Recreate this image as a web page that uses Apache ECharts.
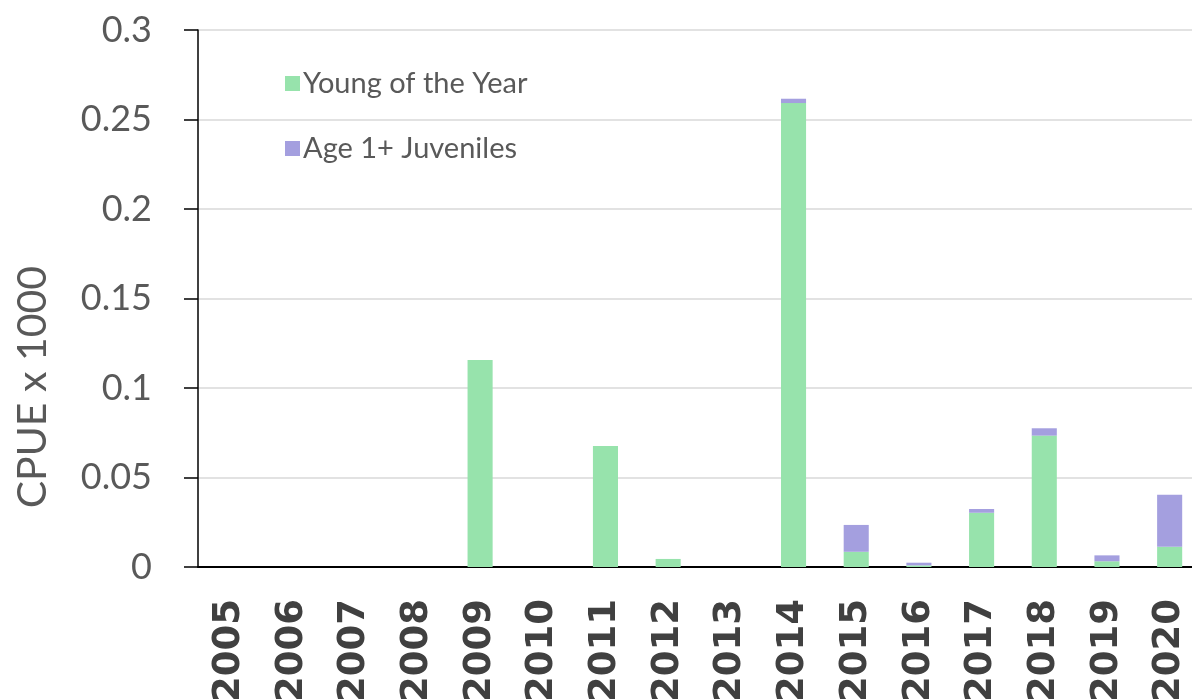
<!DOCTYPE html>
<html>
<head>
<meta charset="utf-8">
<script src="https://cdn.jsdelivr.net/npm/echarts@6/dist/echarts.min.js"></script>
<style>html,body{margin:0;padding:0;background:#fff;}#c{width:1192px;height:699px;}</style>
</head>
<body>
<div id="c"></div>
<script>
const years = ['2005','2006','2007','2008','2009','2010','2011','2012','2013','2014','2015','2016','2017','2018','2019','2020'];
const youngOfYear = [0, 0, 0, 0, 0.1156, 0, 0.0676, 0.0045, 0, 0.2592, 0.0085, 0.0009, 0.0303, 0.0734, 0.0032, 0.0113];
const age1Juveniles = [0, 0, 0, 0, 0, 0, 0, 0, 0, 0.0024, 0.0150, 0.0015, 0.0021, 0.0041, 0.0033, 0.0291];
const yTicks = [0, 0.05, 0.1, 0.15, 0.2, 0.25, 0.3];

const chart = echarts.init(document.getElementById('c'));
chart.setOption({
  animation: false,
  backgroundColor: '#ffffff',
  grid: { left: 198, top: 30, width: 1003, height: 537, containLabel: false, outerBoundsMode: 'none' },
  legend: {
    orient: 'vertical',
    left: 280,
    top: 64,
    itemGap: 36,
    itemWidth: 15,
    itemHeight: 15,
    icon: 'rect',
    textStyle: { fontFamily: 'Lato', fontSize: 29, color: '#595959', padding: [0, 0, 0, -2] },
    data: ['Young of the Year', 'Age 1+ Juveniles']
  },
  xAxis: {
    type: 'category',
    data: years,
    axisLine: { lineStyle: { color: '#000000', width: 2 } },
    axisTick: { show: false },
    axisLabel: {
      rotate: 90, margin: 32, interval: 0,
      fontFamily: 'DejaVu Sans', fontWeight: 'bold', fontSize: 37, color: '#404040'
    }
  },
  yAxis: {
    type: 'value',
    min: yTicks[0],
    max: yTicks[yTicks.length - 1],
    interval: 0.05,
    axisLine: { show: true, lineStyle: { color: '#000000', width: 1.5 } },
    axisTick: { show: true, inside: false, length: 14, lineStyle: { color: '#000000', width: 1.5 } },
    axisLabel: {
      margin: 46, fontFamily: 'Lato', fontSize: 36, color: '#595959',
      formatter: v => String(parseFloat(v.toFixed(2)))
    },
    splitLine: { lineStyle: { color: '#d9d9d9', width: 1.5 } }
  },
  graphic: [{
    type: 'text',
    left: 12,
    top: 266,
    rotation: Math.PI / 2,
    style: { text: 'CPUE x 1000', fontFamily: 'Lato', fontSize: 41, fill: '#595959' }
  }],
  series: [
    {
      name: 'Young of the Year', type: 'bar', stack: 'a', data: youngOfYear,
      barWidth: '40%', itemStyle: { color: '#97e3ac' }
    },
    {
      name: 'Age 1+ Juveniles', type: 'bar', stack: 'a', data: age1Juveniles,
      barWidth: '40%', itemStyle: { color: '#a49fdf' }
    }
  ]
});
</script>
</body>
</html>
